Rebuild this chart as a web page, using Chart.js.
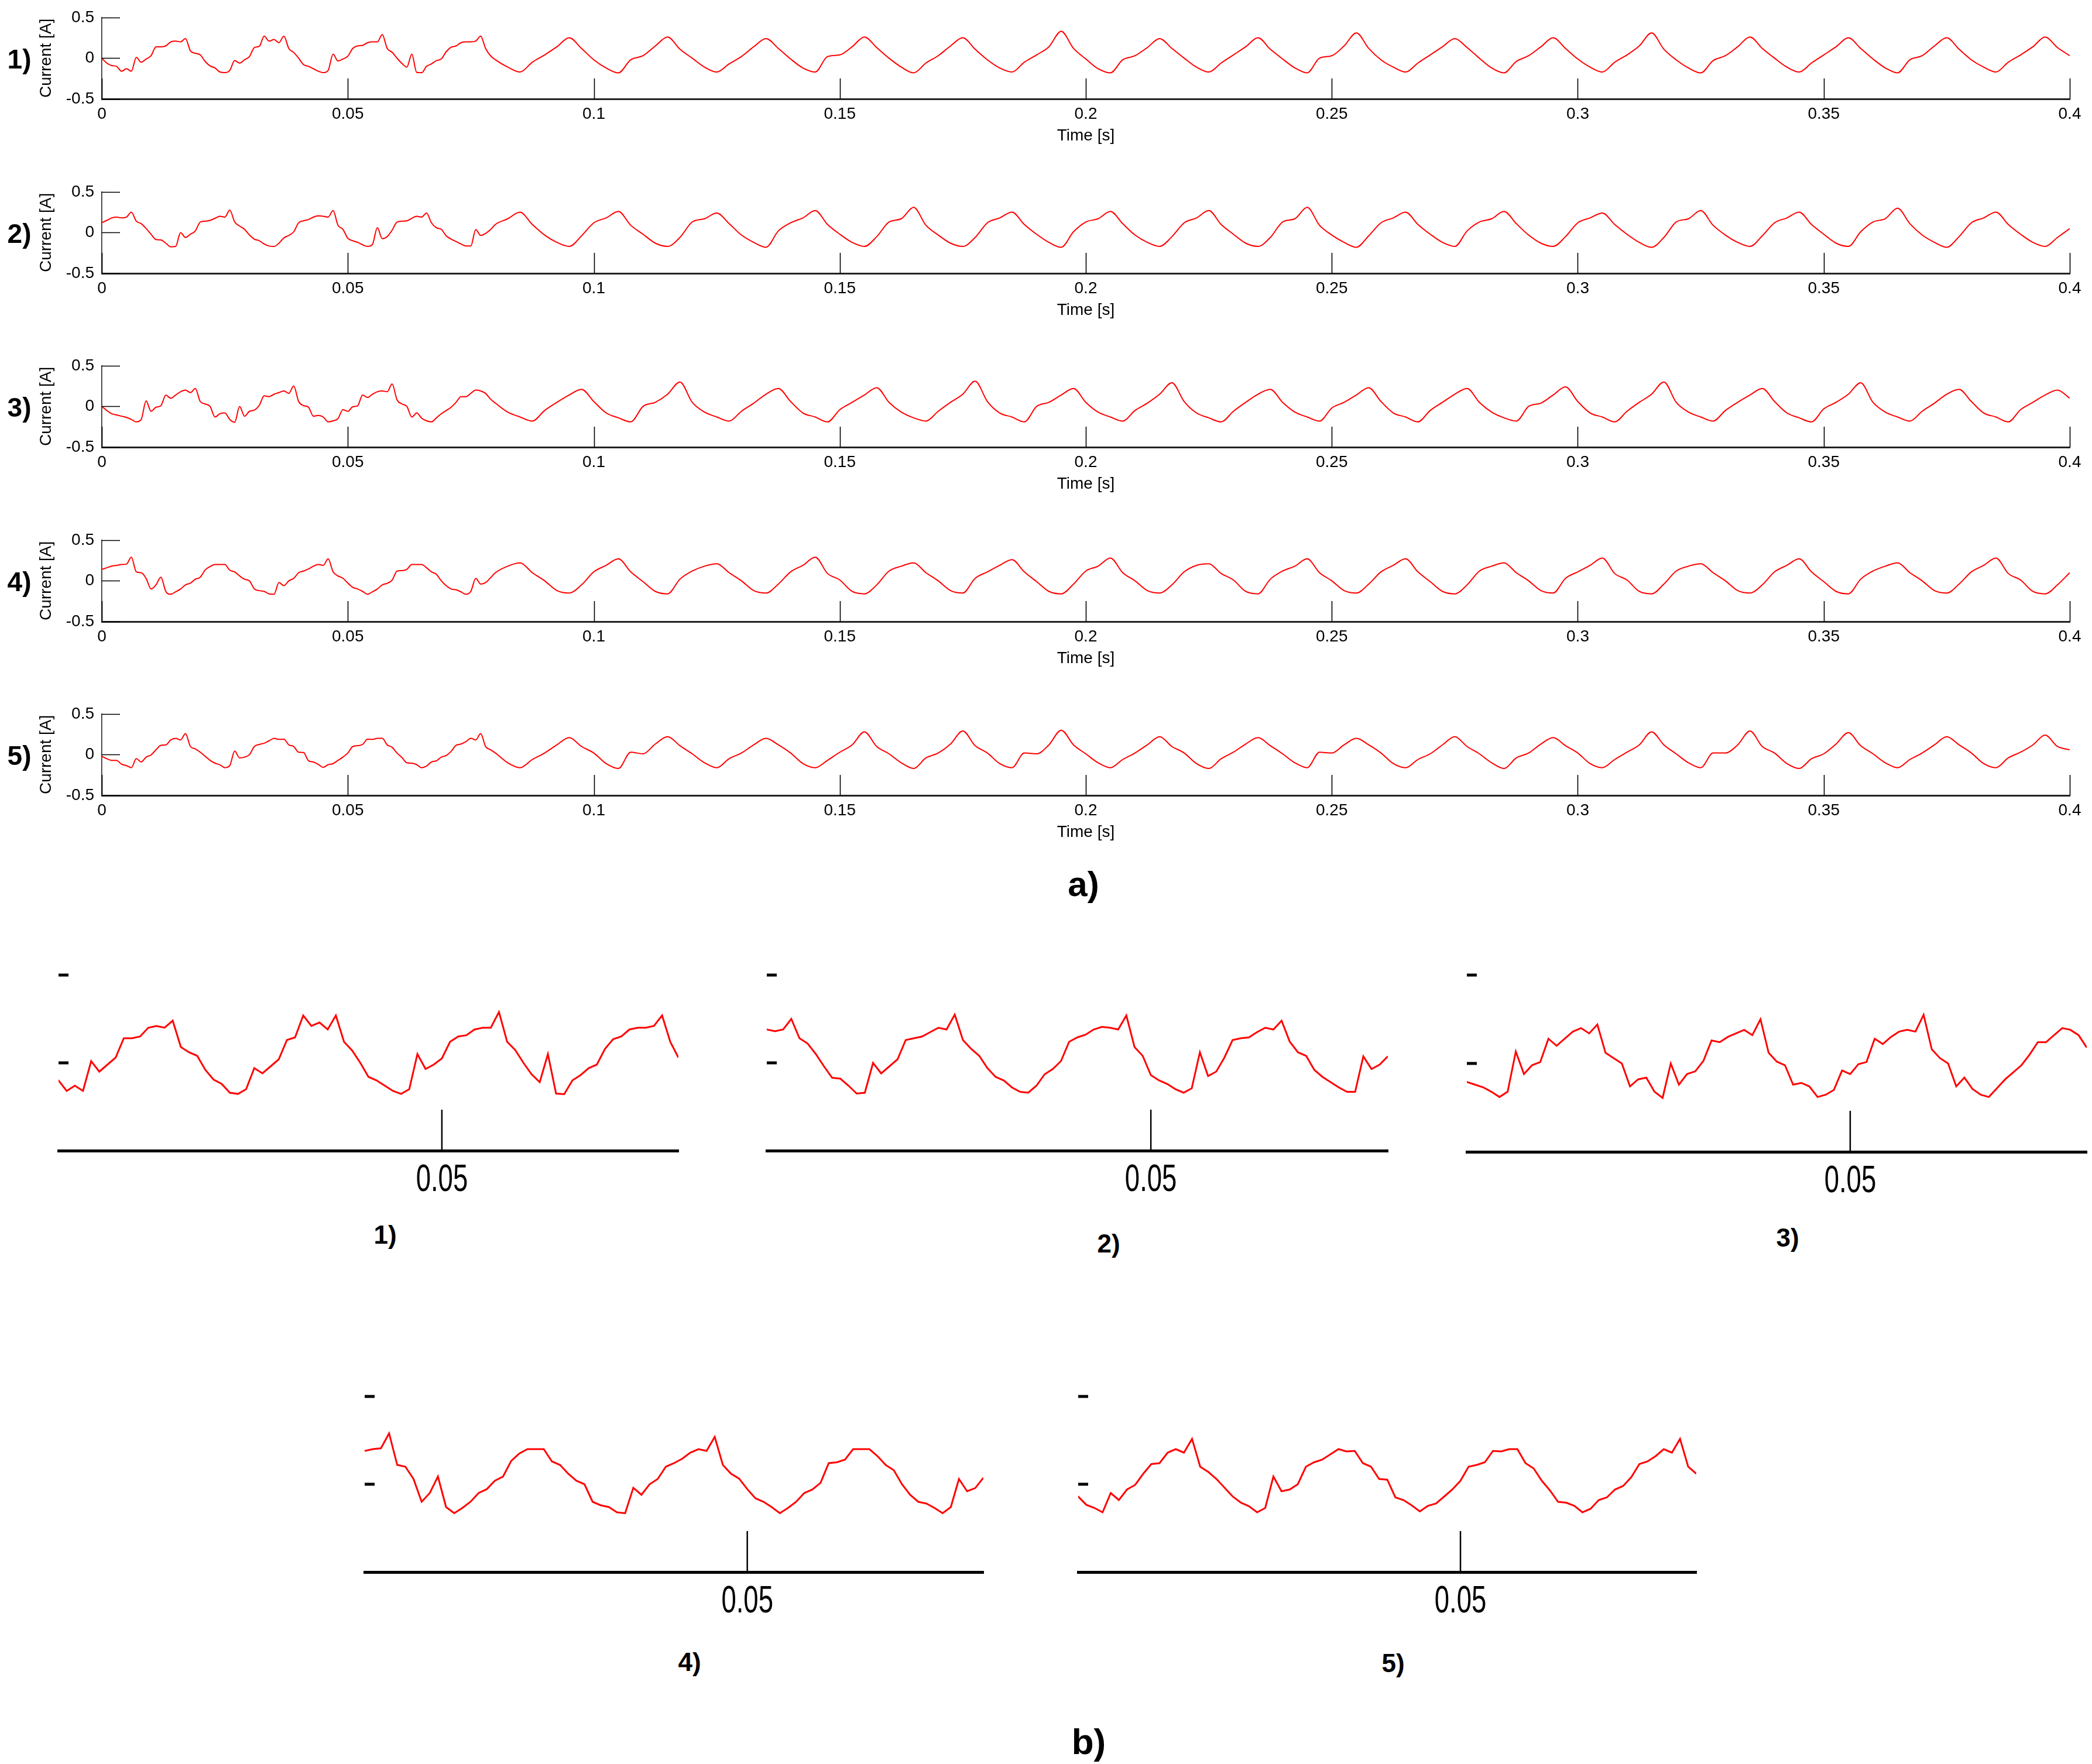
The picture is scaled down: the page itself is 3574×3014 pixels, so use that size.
<!DOCTYPE html>
<html><head><meta charset="utf-8">
<script src="https://cdn.jsdelivr.net/npm/chart.js@4.4.0/dist/chart.umd.min.js"></script>
<style>
html,body{margin:0;padding:0;background:#fff;}
body{width:3574px;height:3014px;position:relative;overflow:hidden;font-family:"Liberation Sans",Arial,sans-serif;}
canvas{position:absolute;}
.lbl{position:absolute;transform:translate(-50%,-50%);font-weight:bold;color:#000;white-space:nowrap;line-height:1;}
</style></head><body>
<script>
// ---------- DATA ----------
// sample times: 1 ms steps for 0..0.08 s, then 2.5 ms steps up to 0.4 s
const denseStepMs = 1, denseEndMs = 80, coarseStepMs = 2.5, endMs = 400;
const timeS = [];
for (let i = 0; i <= denseEndMs / denseStepMs; i++) timeS.push(i * denseStepMs / 1000);
for (let i = 1; i <= (endMs - denseEndMs) / coarseStepMs; i++) timeS.push((denseEndMs + i * coarseStepMs) / 1000);

// Current [A], signal 1
const current1 = [
 0.0,-0.06,-0.09,-0.10,-0.16,-0.13,-0.16,0.01,-0.05,-0.01,
 0.03,0.14,0.14,0.15,0.2,0.21,0.2,0.24,0.09,0.06,
 0.04,-0.04,-0.095,-0.12,-0.17,-0.177,-0.15,-0.03,-0.06,-0.02,
 0.02,0.13,0.145,0.27,0.21,0.23,0.19,0.27,0.12,0.07,
 0.0,-0.08,-0.10,-0.13,-0.16,-0.177,-0.15,0.05,-0.035,-0.01,
 0.025,0.12,0.15,0.157,0.19,0.2,0.2,0.29,0.12,0.073,
 0.0,-0.065,-0.11,0.05,-0.175,-0.178,-0.1,-0.07,-0.03,-0.01,
 0.08,0.135,0.15,0.19,0.2,0.2,0.21,0.27,0.12,0.03,-0.02,
 -0.11,-0.17,-0.05,0.04,0.14,0.25,0.12,-0.02,
 -0.12,-0.18,-0.02,0.03,0.15,0.26,0.11,0.0,
 -0.11,-0.17,-0.07,0.02,0.14,0.24,0.12,-0.01,
 -0.12,-0.17,0.02,0.04,0.14,0.26,0.13,0.0,
 -0.11,-0.18,-0.06,0.03,0.15,0.25,0.11,-0.02,
 -0.12,-0.17,-0.05,0.04,0.14,0.33,0.12,-0.01,
 -0.13,-0.18,-0.02,0.03,0.13,0.24,0.12,0.0,
 -0.11,-0.17,-0.06,0.04,0.14,0.25,0.11,-0.01,
 -0.12,-0.18,0.0,0.03,0.15,0.31,0.12,-0.02,
 -0.11,-0.17,-0.06,0.04,0.14,0.24,0.13,0.0,
 -0.12,-0.18,-0.04,0.03,0.14,0.25,0.12,-0.01,
 -0.11,-0.17,-0.05,0.04,0.15,0.31,0.11,-0.02,
 -0.12,-0.18,-0.03,0.03,0.14,0.26,0.12,0.0,
 -0.11,-0.17,-0.06,0.04,0.14,0.25,0.12,-0.01,
 -0.12,-0.18,-0.02,0.03,0.15,0.25,0.11,-0.02,
 -0.11,-0.17,-0.05,0.04,0.14,0.26,0.13,0.03
];
// signal 2
const current2 = [
 0.12,0.15,0.18,0.19,0.18,0.19,0.25,0.14,0.11,0.05,
 -0.02,-0.085,-0.09,-0.13,-0.175,-0.17,0.0,-0.06,-0.02,0.02,
 0.13,0.14,0.15,0.175,0.2,0.19,0.275,0.13,0.08,0.04,
 -0.03,-0.08,-0.1,-0.14,-0.165,-0.17,-0.13,-0.065,-0.035,0.01,
 0.12,0.145,0.16,0.19,0.205,0.2,0.19,0.27,0.09,0.04,
 -0.07,-0.1,-0.12,-0.15,-0.17,-0.145,0.06,-0.075,-0.05,0.03,
 0.13,0.14,0.145,0.175,0.2,0.19,0.24,0.12,0.06,0.04,
 -0.04,-0.08,-0.11,-0.14,-0.165,-0.165,0.037,-0.035,-0.01,0.037,0.1,
 0.17,0.25,0.1,-0.03,-0.12,-0.17,-0.04,0.12,
 0.18,0.26,0.09,-0.02,-0.13,-0.17,-0.06,0.13,
 0.17,0.24,0.11,-0.03,-0.12,-0.18,0.02,0.12,
 0.18,0.27,0.1,-0.02,-0.12,-0.17,-0.05,0.13,
 0.17,0.31,0.09,-0.03,-0.13,-0.17,-0.06,0.12,
 0.18,0.25,0.1,-0.02,-0.12,-0.18,0.01,0.13,
 0.17,0.26,0.11,-0.03,-0.12,-0.17,-0.05,0.12,
 0.18,0.27,0.1,-0.02,-0.13,-0.17,-0.06,0.13,
 0.17,0.31,0.09,-0.03,-0.12,-0.18,-0.04,0.12,
 0.18,0.25,0.1,-0.02,-0.12,-0.17,0.02,0.13,
 0.17,0.26,0.11,-0.03,-0.13,-0.17,-0.05,0.12,
 0.18,0.24,0.1,-0.02,-0.12,-0.18,-0.06,0.13,
 0.17,0.27,0.09,-0.03,-0.12,-0.17,-0.04,0.12,
 0.18,0.25,0.1,-0.02,-0.13,-0.17,0.01,0.13,
 0.17,0.3,0.11,-0.03,-0.12,-0.18,-0.05,0.12,
 0.18,0.25,0.1,-0.02,-0.12,-0.17,-0.06,0.05
];
// signal 3
const current3 = [
 0.0,-0.05,-0.09,-0.105,-0.12,-0.135,-0.16,-0.19,-0.16,0.067,
 -0.06,-0.01,0.008,0.14,0.1,0.14,0.18,0.2,0.17,0.22,
 0.06,0.03,0.0,-0.13,-0.09,-0.08,-0.16,-0.195,0.0,-0.12,
 -0.06,-0.045,0.014,0.13,0.12,0.15,0.17,0.19,0.16,0.25,
 0.06,0.01,-0.01,-0.12,-0.11,-0.13,-0.19,-0.177,-0.15,-0.04,
 -0.06,-0.004,0.008,0.14,0.11,0.15,0.18,0.19,0.18,0.275,
 0.08,0.03,0.0,-0.13,-0.08,-0.145,-0.177,-0.19,-0.14,-0.09,
 -0.05,-0.01,0.05,0.12,0.12,0.16,0.2,0.19,0.16,0.09,0.04,
 -0.07,-0.13,-0.18,-0.05,0.05,0.14,0.21,0.06,
 -0.08,-0.14,-0.19,0.0,0.05,0.15,0.3,0.05,
 -0.07,-0.13,-0.18,-0.06,0.04,0.15,0.22,0.06,
 -0.08,-0.13,-0.19,-0.04,0.05,0.14,0.23,0.05,
 -0.07,-0.14,-0.18,-0.06,0.05,0.15,0.31,0.06,
 -0.08,-0.13,-0.19,0.0,0.05,0.14,0.22,0.05,
 -0.07,-0.13,-0.18,-0.05,0.04,0.15,0.29,0.06,
 -0.08,-0.14,-0.19,-0.06,0.05,0.15,0.21,0.05,
 -0.07,-0.13,-0.18,-0.02,0.05,0.14,0.23,0.06,
 -0.08,-0.13,-0.19,-0.05,0.05,0.15,0.22,0.05,
 -0.07,-0.14,-0.18,0.0,0.04,0.14,0.24,0.06,
 -0.08,-0.13,-0.19,-0.06,0.05,0.15,0.3,0.05,
 -0.07,-0.13,-0.18,-0.05,0.05,0.14,0.22,0.06,
 -0.08,-0.14,-0.19,-0.03,0.05,0.15,0.29,0.05,
 -0.07,-0.13,-0.18,-0.06,0.04,0.15,0.21,0.06,
 -0.08,-0.13,-0.19,-0.04,0.05,0.14,0.2,0.1
];
// signal 4
const current4 = [
 0.14,0.16,0.18,0.19,0.2,0.205,0.29,0.11,0.1,0.03,
 -0.1,-0.05,0.044,-0.13,-0.165,-0.135,-0.1,-0.05,-0.028,0.02,
 0.044,0.133,0.175,0.2,0.2,0.2,0.13,0.11,0.06,0.02,
 0.0,-0.1,-0.12,-0.13,-0.16,-0.165,-0.02,-0.06,0.0,0.03,
 0.1,0.12,0.145,0.18,0.2,0.19,0.27,0.11,0.06,0.032,
 -0.028,-0.08,-0.1,-0.13,-0.165,-0.135,-0.1,-0.05,-0.03,0.008,
 0.12,0.125,0.14,0.2,0.2,0.2,0.16,0.11,0.08,0.0,
 -0.06,-0.1,-0.11,-0.135,-0.165,-0.13,0.03,-0.04,-0.022,0.037,0.1,
 0.18,0.22,0.1,0.0,-0.12,-0.15,-0.05,0.11,
 0.19,0.27,0.11,-0.01,-0.13,-0.16,0.02,0.12,
 0.18,0.21,0.1,0.0,-0.12,-0.15,-0.04,0.11,
 0.19,0.29,0.09,0.01,-0.13,-0.16,-0.05,0.12,
 0.18,0.22,0.1,0.0,-0.12,-0.15,0.03,0.11,
 0.19,0.26,0.11,-0.01,-0.13,-0.16,-0.04,0.12,
 0.18,0.28,0.1,0.0,-0.12,-0.15,-0.05,0.11,
 0.19,0.21,0.09,0.01,-0.13,-0.16,0.02,0.12,
 0.18,0.27,0.1,0.0,-0.12,-0.15,-0.04,0.11,
 0.19,0.27,0.11,-0.01,-0.13,-0.16,-0.05,0.12,
 0.18,0.22,0.1,0.0,-0.12,-0.15,0.03,0.11,
 0.19,0.28,0.09,0.01,-0.13,-0.16,-0.04,0.12,
 0.18,0.21,0.1,0.0,-0.12,-0.15,-0.05,0.11,
 0.19,0.27,0.11,-0.01,-0.13,-0.16,0.02,0.12,
 0.18,0.22,0.1,0.0,-0.12,-0.15,-0.04,0.11,
 0.19,0.28,0.09,0.01,-0.13,-0.16,-0.05,0.1
];
// signal 5
const current5 = [
 -0.02,-0.05,-0.07,-0.07,-0.117,-0.135,-0.16,-0.05,-0.09,-0.03,
 -0.004,0.06,0.115,0.12,0.18,0.2,0.18,0.258,0.1,0.07,
 0.03,-0.02,-0.07,-0.105,-0.125,-0.16,-0.135,0.044,-0.04,-0.03,
 0.0,0.1,0.125,0.14,0.17,0.2,0.187,0.19,0.12,0.1,
 0.03,0.026,-0.075,-0.09,-0.12,-0.155,-0.123,-0.11,-0.07,-0.03,
 0.02,0.1,0.11,0.125,0.19,0.187,0.2,0.2,0.12,0.09,
 0.02,-0.035,-0.1,-0.105,-0.123,-0.16,-0.14,-0.09,-0.075,-0.03,
 -0.01,0.04,0.115,0.13,0.16,0.2,0.18,0.258,0.1,0.06,0.02,
 -0.1,-0.16,-0.06,0.02,0.12,0.21,0.1,0.02,
 -0.11,-0.17,0.03,0.01,0.13,0.22,0.11,0.01,
 -0.1,-0.16,-0.05,0.02,0.12,0.2,0.12,0.02,
 -0.11,-0.16,-0.07,0.03,0.12,0.28,0.1,0.01,
 -0.1,-0.17,-0.04,0.02,0.13,0.29,0.11,0.02,
 -0.11,-0.16,0.02,0.01,0.12,0.3,0.12,0.01,
 -0.1,-0.16,-0.06,0.02,0.12,0.22,0.1,0.02,
 -0.11,-0.17,-0.05,0.03,0.13,0.21,0.11,0.01,
 -0.1,-0.16,0.03,0.02,0.12,0.2,0.12,0.02,
 -0.11,-0.16,-0.06,0.01,0.12,0.22,0.1,0.01,
 -0.1,-0.17,-0.04,0.02,0.13,0.21,0.11,0.02,
 -0.11,-0.16,-0.06,0.03,0.12,0.28,0.12,0.01,
 -0.1,-0.16,0.02,0.02,0.12,0.29,0.1,0.02,
 -0.11,-0.17,-0.05,0.01,0.13,0.27,0.11,0.01,
 -0.1,-0.16,-0.06,0.02,0.12,0.22,0.12,0.02,
 -0.11,-0.16,-0.04,0.03,0.12,0.24,0.1,0.06
];
const seriesList = [current1, current2, current3, current4, current5];
const panelLabels = ['1)', '2)', '3)', '4)', '5)'];
const xMin = 0, xMax = 0.4, xStep = 0.05;
const yMin = -0.5, yMax = 0.5, yStep = 0.5;
const zoomMin = 0.003, zoomMax = 0.079;
const xTitle = 'Time [s]', yTitle = 'Current [A]';

// ---------- RENDERING ----------
const FONT = '"Liberation Sans", Arial, sans-serif';
Chart.defaults.font.family = FONT;
Chart.defaults.color = '#000';

function makeCanvas(x, y, w, h) {
  const c = document.createElement('canvas');
  c.width = w; c.height = h;
  c.style.left = x + 'px'; c.style.top = y + 'px';
  c.style.width = w + 'px'; c.style.height = h + 'px';
  document.body.appendChild(c);
  return c;
}
function addLabel(text, x, y, size) {
  const d = document.createElement('div');
  d.className = 'lbl'; d.textContent = text;
  d.style.left = x + 'px'; d.style.top = y + 'px'; d.style.fontSize = size + 'px';
  document.body.appendChild(d);
}
function points(arr) { return arr.map((v, i) => ({x: timeS[i], y: v})); }

const inwardTicks = {
  id: 'inwardTicks',
  afterDraw(chart, args, opts) {
    const {ctx, chartArea: a, scales: {x, y}} = chart;
    ctx.save(); ctx.strokeStyle = '#000'; ctx.lineWidth = 1.6;
    ctx.beginPath();
    y.ticks.forEach(t => { const py = Math.round(y.getPixelForValue(t.value)) + 0.5; ctx.moveTo(a.left, py); ctx.lineTo(a.left + opts.y, py); });
    x.ticks.forEach(t => { const px = Math.round(x.getPixelForValue(t.value)) + 0.5; ctx.moveTo(px, a.bottom); ctx.lineTo(px, a.bottom - opts.x); });
    ctx.stroke(); ctx.restore();
  }
};

const zoomMarks = {
  id: 'zoomMarks',
  afterDraw(chart, args, opts) {
    const {ctx, chartArea: a, scales: {x, y}} = chart;
    ctx.save(); ctx.fillStyle = '#000'; ctx.strokeStyle = '#000';
    y.ticks.forEach(t => {
      if (t.value <= y.min + 1e-9) return;
      const py = y.getPixelForValue(t.value);
      ctx.fillRect(a.left, py - 2.5, 17, 5);
    });
    x.ticks.forEach(t => {
      const r = t.value / xStep;
      if (Math.abs(r - Math.round(r)) > 1e-6 || t.value <= x.min || t.value >= x.max) return;
      const px = x.getPixelForValue(t.value);
      ctx.lineWidth = 2.5;
      ctx.beginPath(); ctx.moveTo(px, a.bottom); ctx.lineTo(px, a.bottom - 70); ctx.stroke();
      ctx.save();
      ctx.translate(px, a.bottom + 51); ctx.scale(0.7, 1);
      ctx.font = '65px ' + FONT; ctx.textAlign = 'center'; ctx.textBaseline = 'middle';
      ctx.fillText(String(+t.value.toFixed(2)), 0, 0);
      ctx.restore();
    });
    ctx.restore();
  }
};

// top panels
for (let k = 0; k < 5; k++) {
  const cy = Math.round(297.5 * k);
  const cv = makeCanvas(0, cy, 3574, 262);
  new Chart(cv, {
    type: 'line',
    data: { datasets: [{ data: points(seriesList[k]), borderColor: '#ff0000', borderWidth: 2, pointRadius: 0,
                         cubicInterpolationMode: 'monotone', fill: false }] },
    options: {
      responsive: false, animation: false, events: [],
      layout: { padding: { left: 0, top: 24, right: 38, bottom: 13 } },
      plugins: { legend: {display: false}, tooltip: {enabled: false}, inwardTicks: {x: 35, y: 31} },
      scales: {
        x: {
          type: 'linear', min: xMin, max: xMax,
          afterFit: s => { s.height = 80; },
          border: {display: true, color: '#222', width: 3},
          grid: {display: true, drawOnChartArea: false, drawTicks: false},
          ticks: {stepSize: xStep, color: '#000', font: {size: 28}, padding: 9, maxRotation: 0, autoSkip: false,
                  callback: v => String(+v.toFixed(2))},
          title: {display: true, text: xTitle, color: '#000', font: {size: 28}, padding: {top: 0, bottom: 0}}
        },
        y: {
          min: yMin, max: yMax,
          afterFit: s => { s.width = 174; },
          border: {display: true, color: '#222', width: 1.6},
          grid: {display: true, drawOnChartArea: false, drawTicks: false},
          ticks: {stepSize: yStep, color: '#000', font: {size: 28}, padding: 13, callback: v => String(+v.toFixed(1))},
          title: {display: true, text: yTitle, color: '#000', font: {size: 28, lineHeight: 1.2}, padding: {top: 62, bottom: 0}}
        }
      }
    },
    plugins: [inwardTicks]
  });
  addLabel(panelLabels[k], 33, 101 + 297.5 * k, 46);
}
addLabel('a)', 1851, 1511, 60);

// zoomed panels b)
const zoomRects = [
  [100, 1666, 1159, 1966],
  [1310, 1666, 2371, 1966],
  [2506, 1666, 3565, 1968],
  [623, 2386, 1680, 2686],
  [1842, 2386, 2898, 2686]
];
const zoomLabelPos = [[658, 2110], [1894, 2125], [3054, 2115], [1178, 2840], [2380, 2842]];
zoomRects.forEach((r, k) => {
  const [L, T, R, B] = r;
  const cx = L - 30, cy = T - 40, cw = R - L + 60, ch = B - T + 120;
  const cv = makeCanvas(cx, cy, cw, ch);
  new Chart(cv, {
    type: 'line',
    data: { datasets: [{ data: points(seriesList[k]), borderColor: '#ff0000', borderWidth: 3, pointRadius: 0, tension: 0, fill: false }] },
    options: {
      responsive: false, animation: false, events: [],
      layout: { padding: { left: 30, top: 40, right: 30, bottom: ch - (B - cy) - 10 } },
      plugins: { legend: {display: false}, tooltip: {enabled: false} },
      scales: {
        x: {
          type: 'linear', min: zoomMin, max: zoomMax,
          afterFit: s => { s.height = 10; },
          border: {display: true, color: '#000', width: 5},
          grid: {display: true, drawOnChartArea: false, drawTicks: false},
          ticks: {display: false, stepSize: xStep}
        },
        y: {
          min: yMin, max: yMax,
          afterFit: s => { s.width = 0; },
          border: {display: false},
          grid: {display: true, drawOnChartArea: false, drawTicks: false},
          ticks: {display: false, stepSize: yStep}
        }
      }
    },
    plugins: [zoomMarks]
  });
  addLabel(panelLabels[k], zoomLabelPos[k][0], zoomLabelPos[k][1], 44);
});
addLabel('b)', 1860, 2976, 62);
</script>
</body></html>
